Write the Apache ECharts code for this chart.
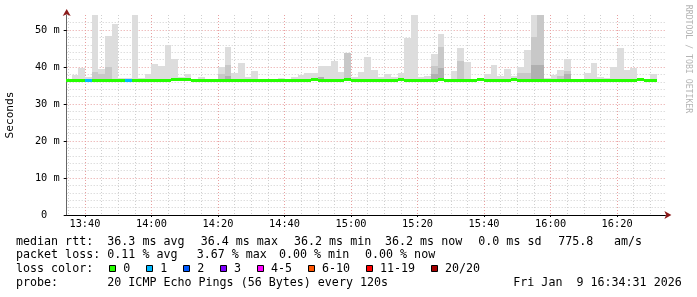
<!DOCTYPE html>
<html><head><meta charset="utf-8">
<script src="https://cdn.jsdelivr.net/npm/echarts@6/dist/echarts.min.js"></script>
<style>html,body{margin:0;padding:0;background:#fff}#c{width:697px;height:297px}</style>
</head><body><div id="c"></div>
<script>
// ---- data (2-minute bins, start times) ----
const binTimes = ['13:34','13:36','13:38','13:40','13:42','13:44','13:46','13:48','13:50','13:52',
  '13:54','13:56','13:58','14:00','14:02','14:04','14:06','14:08','14:10','14:12',
  '14:14','14:16','14:18','14:20','14:22','14:24','14:26','14:28','14:30','14:32',
  '14:34','14:36','14:38','14:40','14:42','14:44','14:46','14:48','14:50','14:52',
  '14:54','14:56','14:58','15:00','15:02','15:04','15:06','15:08','15:10','15:12',
  '15:14','15:16','15:18','15:20','15:22','15:24','15:26','15:28','15:30','15:32',
  '15:34','15:36','15:38','15:40','15:42','15:44','15:46','15:48','15:50','15:52',
  '15:54','15:56','15:58','16:00','16:02','16:04','16:06','16:08','16:10','16:12',
  '16:14','16:16','16:18','16:20','16:22','16:24','16:26','16:28','16:30'];
// outer smoke (max ping, ms)
const smokeMax = [null,37.9,39.7,37.2,55,39.5,48.3,51.6,36.9,36.9,
  55,37.0,38.1,40.7,40.2,46.0,42.1,37.2,38.1,36.8,
  37.2,null,null,40.0,45.4,38.4,41.1,37.4,38.9,null,
  null,null,37.0,null,37.3,37.8,38.4,38.4,40.2,40.2,
  41.7,38.7,43.9,37.2,38.7,42.8,39.2,37.4,38.1,37.2,
  38.4,47.9,55,37.4,37.6,43.6,48.9,null,38.9,45.0,
  41.4,null,null,38.1,40.5,37.6,39.4,37.6,40.1,44.6,
  55,55,36.9,37.7,39.3,42.1,null,null,38.4,41.1,
  37.3,36.9,40.0,45.0,39.2,39.7,null,null,38.2];
// denser inner smoke
const smokeMid = [null,null,null,null,38.6,38.0,40.0,null,null,null,
  null,null,null,null,null,null,null,null,null,null,
  null,null,null,38.0,40.5,null,null,null,null,null,
  null,null,null,null,null,null,null,null,null,null,
  null,null,43.9,null,null,null,null,null,null,null,
  null,null,null,null,null,40.2,45.4,null,null,41.5,
  null,null,null,null,null,null,null,null,38.3,38.3,
  48.2,55,null,null,37.5,39.0,null,null,null,null,
  null,null,null,null,null,null,null,null,null];
const smokeDark = [null,null,null,null,null,null,null,null,null,null,
  null,null,null,null,null,null,null,null,null,null,
  null,null,null,null,37.5,null,null,null,null,null,
  null,null,null,null,null,null,null,null,37.2,null,
  null,null,null,null,null,null,null,null,null,null,
  null,null,null,null,null,38.0,39.7,null,null,null,
  null,null,null,null,null,null,null,null,null,null,
  40.5,40.5,null,null,null,38.2,null,null,null,null,
  null,null,null,null,null,null,null,null,null];
const medianRtt = [36.3,36.3,36.3,36.3,36.3,36.3,36.3,36.3,36.3,36.3,
  36.3,36.3,36.3,36.3,36.3,36.3,36.4,36.4,36.4,36.3,
  36.3,36.3,36.3,36.3,36.3,36.3,36.3,36.3,36.3,36.3,
  36.3,36.3,36.3,36.3,36.3,36.3,36.3,36.4,36.3,36.3,
  36.3,36.3,36.4,36.3,36.3,36.3,36.3,36.3,36.3,36.3,
  36.4,36.3,36.3,36.3,36.3,36.3,36.4,36.3,36.3,36.3,
  36.3,36.3,36.4,36.3,36.3,36.3,36.3,36.4,36.3,36.3,
  36.3,36.3,36.3,36.3,36.3,36.3,36.3,36.3,36.3,36.3,
  36.3,36.3,36.3,36.3,36.3,36.3,36.4,36.3,36.3];
const lossCount = [0,0,0,1,0,0,0,0,0,1,
  0,0,0,0,0,0,0,0,0,0, 0,0,0,0,0,0,0,0,0,0,
  0,0,0,0,0,0,0,0,0,0, 0,0,0,0,0,0,0,0,0,0,
  0,0,0,0,0,0,0,0,0,0, 0,0,0,0,0,0,0,0,0,0,
  0,0,0,0,0,0,0,0,0,0, 0,0,0,0,0,0,0,0,0];
const xTickLabels = ['13:40','14:00','14:20','14:40','15:00','15:20','15:40','16:00','16:20'];
const xMinorLabels = ['13:35','13:45','13:50','13:55','14:05','14:10','14:15','14:25','14:30','14:35',
  '14:45','14:50','14:55','15:05','15:10','15:15','15:25','15:30','15:35','15:45','15:50','15:55',
  '16:05','16:10','16:15','16:25','16:30'];
const yTickValues = [0,10,20,30,40,50];
const yTickLabels = ['0\u00a0\u00a0','10 m','20 m','30 m','40 m','50 m'];
const yMinorValues = [2,4,6,8,12,14,16,18,22,24,26,28,32,34,36,38,42,44,46,48,52];
const lossLegend = ['0','1','2','3','4-5','6-10','11-19','20/20'];
const lossColors = ['#26ff00','#00b8ff','#0059ff','#7e00ff','#ff00ff','#ff5500','#ff0000','#a10000'];
const medianStats = ['36.3 ms avg','36.4 ms max','36.2 ms min','36.2 ms now','0.0 ms sd','775.8','am/s'];
const lossStats = ['0.11 % avg','3.67 % max','0.00 % min','0.00 % now'];
const probeText = '20 ICMP Echo Pings (56 Bytes) every 120s';
const stampText = 'Fri Jan  9 16:34:31 2026';

// ---- helpers ----
const toMin = s => { const p = s.split(':').map(Number); return p[0]*60 + p[1]; };
const STEP = 2;
const viewStart = toMin('13:34') + 31/60;
const viewEnd = viewStart + 180;
const majorX = xTickLabels.map(toMin);
const minorX = xMinorLabels.map(toMin);
const lossIndex = n => n === 0 ? 0 : n === 1 ? 1 : n === 2 ? 2 : n === 3 ? 3 : n <= 5 ? 4 : n <= 10 ? 5 : n <= 19 ? 6 : 7;
const nz = v => v == null ? '-' : v;
const seriesData = binTimes.map((t, i) => [toMin(t), toMin(t) + STEP, medianRtt[i], nz(smokeMax[i]), nz(smokeMid[i]), nz(smokeDark[i]), lossCount[i]]);

const FONT = '"DejaVu Sans Mono", monospace';
const LEG = 11.66, CW = LEG * 0.602;

// legend / footer text layout
const graphics = [];
const txt = (s, x, y) => graphics.push({type:'text', x:x, y:y, silent:true,
  style:{text:s, font: LEG + 'px ' + FONT, fill:'#000', verticalAlign:'middle'}});
const row1X = [107.3, 200.7, 294, 385, 478.3, 558.3, 614];
const row2X = [107.3, 196.7, 279, 365];
const rowY = [241.5, 255, 269, 282.5];
txt('median rtt:', 16, rowY[0]);
medianStats.forEach((s, i) => txt(s, row1X[i], rowY[0]));
txt('packet loss:', 16, rowY[1]);
lossStats.forEach((s, i) => txt(s, row2X[i], rowY[1]));
txt('loss color:', 16, rowY[2]);
let bx = 109.3;
lossLegend.forEach((s, i) => {
  graphics.push({type:'rect', silent:true, shape:{x:Math.round(bx)+0.5, y:Math.round(rowY[2])-3.5, width:6, height:6},
    style:{fill:lossColors[i], stroke:'#000', lineWidth:1}});
  txt(s, bx + 14, rowY[2]);
  bx += 14 + s.length * CW + 15.9;
});
txt('probe:', 16, rowY[3]);
txt(probeText, 107.3, rowY[3]);
txt(stampText, 513.3, rowY[3]);
graphics.push({type:'text', x:688, y:59, rotation:-Math.PI/2, silent:true,
  style:{text:'RRDTOOL / TOBI OETIKER', font:'8.2px ' + FONT, fill:'#b4b4b4', align:'center', verticalAlign:'middle'}});

const chart = echarts.init(document.getElementById('c'), null, {renderer:'canvas'});
chart.setOption({
  animation:false,
  backgroundColor:'#fff',
  grid:{left:66.7, top:15, right:31.6, bottom:82, containLabel:false, outerBoundsMode:'none'},
  xAxis:[{
    type:'value', min:viewStart, max:viewEnd,
    axisLine:{show:true, lineStyle:{color:'#000', width:1}},
    axisTick:{show:true, length:2, customValues:majorX, lineStyle:{color:'#000'}},
    axisLabel:{customValues:majorX, formatter:v => xTickLabels[majorX.indexOf(Math.round(v))] || '',
      fontFamily:FONT, fontSize:10.3, color:'#000', margin:4},
    splitLine:{show:true, lineStyle:{color:'#e8a0a0', width:1, type:[1,2]}}
  },{
    type:'value', min:viewStart, max:viewEnd, position:'bottom',
    axisLine:{show:true, lineStyle:{color:'#8b1a1a', width:0}, symbol:['none','arrow'], symbolSize:[6,7], symbolOffset:[0,6]},
    axisTick:{show:false, customValues:minorX}, axisLabel:{show:false},
    splitLine:{show:true, lineStyle:{color:'#cfcfcf', width:1, type:[1,2]}}
  }],
  yAxis:[{
    type:'value', min:0, max:54.05,
    name:'Seconds', nameLocation:'middle', nameGap:51,
    nameTextStyle:{fontFamily:FONT, fontSize:11.2, color:'#000'},
    axisLine:{show:true, lineStyle:{color:'#666', width:1}},
    axisTick:{show:true, length:3, customValues:yTickValues, lineStyle:{color:'#000'}},
    axisLabel:{customValues:yTickValues, formatter:v => yTickLabels[yTickValues.indexOf(Math.round(v))] || '',
      fontFamily:FONT, fontSize:10.3, color:'#000', margin:7},
    splitLine:{show:true, lineStyle:{color:'#e8a0a0', width:1, type:[1,2]}}
  },{
    type:'value', min:0, max:54.05, position:'left',
    axisLine:{show:true, lineStyle:{color:'#8b1a1a', width:0}, symbol:['none','arrow'], symbolSize:[6,7], symbolOffset:[0,6]},
    axisTick:{show:false, customValues:yMinorValues}, axisLabel:{show:false},
    splitLine:{show:true, lineStyle:{color:'#cfcfcf', width:1, type:[1,2]}}
  }],
  series:[{
    type:'custom', xAxisIndex:0, yAxisIndex:0, clip:true,
    encode:{x:[0,1], y:2},
    data:seriesData,
    renderItem:(params, api) => {
      const t0 = api.value(0), t1 = api.value(1), med = api.value(2);
      const xL = Math.round(api.coord([t0, med])[0]);
      const xR = Math.round(api.coord([t1, med])[0]);
      const yMed = Math.round(api.coord([t0, med])[1]);
      const children = [];
      const band = (v, color) => {
        if (v == null || isNaN(v)) return;
        const yTop = Math.round(api.coord([t0, v])[1]);
        children.push({type:'rect', shape:{x:xL, y:yTop, width:xR - xL, height:yMed - yTop + 1}, style:{fill:color}});
      };
      band(api.value(3), '#dddddd');
      band(api.value(4), '#c8c8c8');
      band(api.value(5), '#b0b0b0');
      children.push({type:'rect', shape:{x:xL, y:yMed - 2, width:xR - xL, height:3},
        style:{fill:lossColors[lossIndex(api.value(6))]}});
      return {type:'group', children:children};
    }
  }],
  graphic:graphics
});
</script></body></html>
